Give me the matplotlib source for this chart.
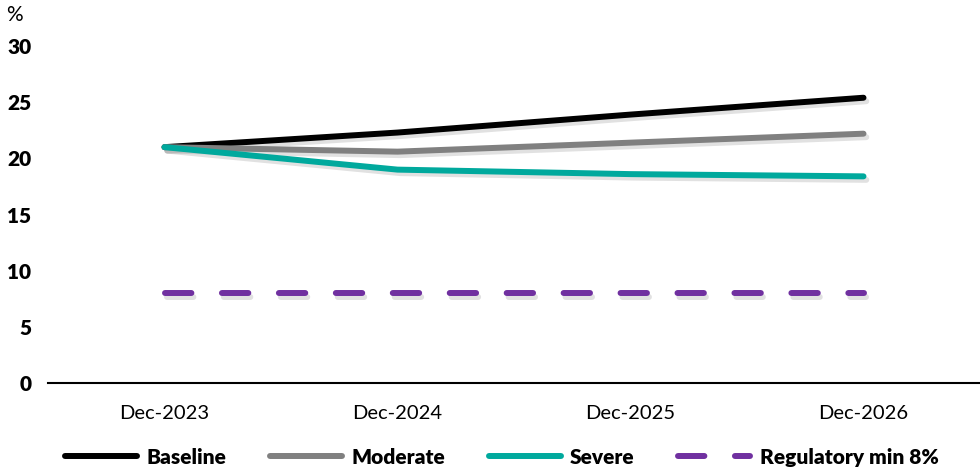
import matplotlib
matplotlib.use("Agg")
import matplotlib.pyplot as plt
import matplotlib.patheffects as pe

plt.rcParams['font.family'] = ['Lato', 'DejaVu Sans']
plt.rcParams['lines.scale_dashes'] = False

periods = ["Dec-2023", "Dec-2024", "Dec-2025", "Dec-2026"]
baseline = [21.0, 22.3, 23.9, 25.4]
moderate = [21.0, 20.6, 21.4, 22.2]
severe = [21.0, 19.0, 18.6, 18.4]
reg_min = [8.0, 8.0, 8.0, 8.0]

series = [
    ("Baseline", baseline, "#000000", "-"),
    ("Moderate", moderate, "#808080", "-"),
    ("Severe", severe, "#00a99d", "-"),
    ("Regulatory min 8%", reg_min, "#7030a0", (0, (19, 22))),
]

fig = plt.figure(figsize=(9.8, 4.7), dpi=100)
ax = fig.add_axes([0.049, 0.185, 0.951, 0.717])

x = list(range(len(periods)))
shadow = [pe.SimpleLineShadow(offset=(2, -2.5), shadow_color="#888888", alpha=0.25),
          pe.Normal()]
for name, vals, color, ls in series:
    ax.plot(x, vals, color=color, lw=4.3, ls=ls, label=name,
            solid_capstyle="round", dash_capstyle="round",
            path_effects=shadow)

ax.set_xlim(-0.5, len(periods) - 0.5)
ax.set_ylim(0, 30)
ax.set_yticks(range(0, 31, 5))
ax.set_xticks(x)
ax.set_xticklabels(periods, fontsize=14.5)
for lbl in ax.get_yticklabels():
    lbl.set_fontweight("heavy")
    lbl.set_fontsize(15)
ax.tick_params(axis="both", length=0)
ax.tick_params(axis="y", pad=12)
ax.tick_params(axis="x", pad=16)
for side in ["top", "right", "left"]:
    ax.spines[side].set_visible(False)
ax.spines["bottom"].set_linewidth(1.5)

fig.text(0.006, 0.955, "%", fontsize=15)

leg = fig.legend(loc="lower center", bbox_to_anchor=(0.512, -0.033), ncol=4,
                 frameon=False, handlelength=3.45, handletextpad=0.45,
                 columnspacing=2.1, prop={"weight": "heavy", "size": 15})
for line in leg.get_lines():
    line.set_path_effects([])

fig.savefig("out.png", dpi=100)
